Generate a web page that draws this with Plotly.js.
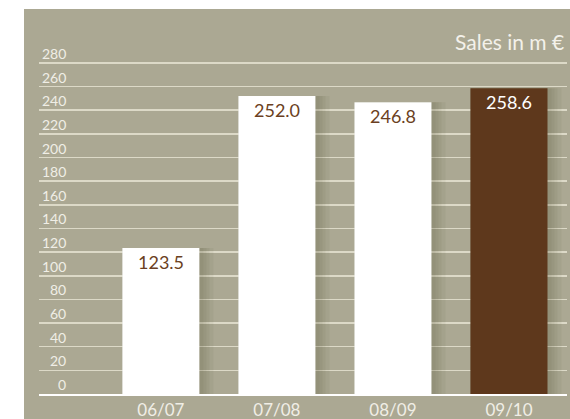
<!DOCTYPE html>
<html>
<head>
<meta charset="utf-8">
<script src="https://cdn.plot.ly/plotly-3.0.1.min.js"></script>
<style>html,body{margin:0;padding:0;background:#fff;}#chart{width:570px;height:419px;}</style>
</head>
<body>
<div id="chart"></div>
<script>
const categories = ['06/07', '07/08', '08/09', '09/10'];
const sales = [123.5, 252.0, 246.8, 258.6];
const salesLabels = ['123.5', '252.0', '246.8', '258.6'];
const yTicks = [0, 20, 40, 60, 80, 100, 120, 140, 160, 180, 200, 220, 240, 260, 280];
const barColors = ['#ffffff', '#ffffff', '#ffffff', '#5e381c'];
const labelColors = ['#6b3f22', '#6b3f22', '#6b3f22', '#ffffff'];

const FONT = 'Lato, "Open Sans", sans-serif';
const W = 570, H = 419;
const mL = 39, mR = 3, mT = 57, mB = 25;
const pw = W - mL - mR, ph = H - mT - mB;
const px2x = p => (p - mL) / pw;
const px2y = p => (H - mB - p) / ph;
const unitPx = pw / 4.55;

const barWidth = 0.664;
const shadowExtents = [14, 10, 7, 4];
const shadows = shadowExtents.map(e => ({
  type: 'bar', x: categories, y: sales, width: barWidth + e / unitPx, offset: -barWidth / 2,
  marker: {color: 'rgba(70,60,40,0.06)', line: {width: 0}}, hoverinfo: 'skip', showlegend: false
}));
const bars = {
  type: 'bar', x: categories, y: sales, width: barWidth, offset: -barWidth / 2,
  marker: {color: barColors, line: {width: 0}},
  showlegend: false
};

const annotations = yTicks.map(v => ({
  xref: 'paper', yref: 'y', x: px2x(68), y: v, xanchor: 'right', yanchor: 'bottom',
  text: String(v), showarrow: false, yshift: -1,
  font: {family: FONT, size: 14, color: '#f0eee6'}
}));
categories.forEach((c, i) => annotations.push({
  xref: 'x', yref: 'y', x: c, y: sales[i], xanchor: 'center', yanchor: 'top',
  text: salesLabels[i], showarrow: false, yshift: -1,
  font: {family: FONT, size: 18, color: labelColors[i]}
}));
annotations.push({
  xref: 'paper', yref: 'paper', x: px2x(566), y: px2y(42), xanchor: 'right', yanchor: 'middle',
  text: 'Sales in m €', showarrow: false,
  font: {family: FONT, size: 21, color: '#f3f1ea'}
});

const layout = {
  width: W, height: H,
  margin: {l: mL, r: mR, t: mT, b: mB, pad: 0},
  paper_bgcolor: '#ffffff', plot_bgcolor: 'rgba(0,0,0,0)',
  barmode: 'overlay',
  showlegend: false,
  shapes: [{
    type: 'rect', xref: 'paper', yref: 'paper', layer: 'below',
    x0: px2x(24), x1: px2x(571), y0: px2y(420), y1: px2y(9),
    fillcolor: '#aba893', line: {width: 0}
  }],
  xaxis: {
    type: 'category', range: [-1.05, 3.5], fixedrange: true,
    showgrid: false, zeroline: false, showline: true, linecolor: '#ffffff', linewidth: 1.5,
    ticks: '', tickfont: {family: FONT, size: 17, color: '#f0eee6'}, ticklabelstandoff: 0
  },
  yaxis: {
    range: [0, 285], tickvals: yTicks, showticklabels: false, ticks: '',
    showgrid: true, gridcolor: '#dcd9c7', gridwidth: 1.5,
    zeroline: false, showline: false, fixedrange: true
  },
  annotations: annotations,
  font: {family: FONT}
};

Plotly.newPlot('chart', shadows.concat([bars]), layout, {displayModeBar: false, staticPlot: true});
</script>
</body>
</html>
